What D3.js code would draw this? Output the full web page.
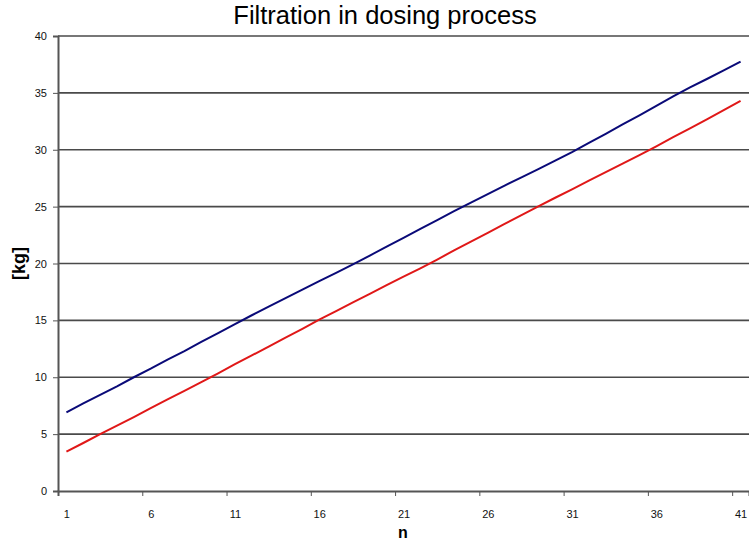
<!DOCTYPE html>
<html>
<head>
<meta charset="utf-8">
<script src="https://cdn.jsdelivr.net/npm/d3@7/dist/d3.min.js"></script>
<style>
  html, body { margin: 0; padding: 0; background: #fff; }
  svg { display: block; }
  text { font-family: Arial, "Liberation Sans", sans-serif; }
</style>
</head>
<body>
<script>
// Dosing cycle index n
const categories = d3.range(1, 42);

// Filtered mass per cycle [kg]
const seriesUpper = [
  6.92, 7.70, 8.45, 9.20, 10.00, 10.75, 11.55, 12.30, 13.10, 13.88,
  14.67, 15.45, 16.20, 16.95, 17.70, 18.45, 19.18, 19.93, 20.70, 21.48,
  22.25, 23.05, 23.82, 24.60, 25.35, 26.10, 26.85, 27.58, 28.30, 29.05,
  29.80, 30.60, 31.40, 32.22, 33.02, 33.85, 34.70, 35.48, 36.22, 36.98,
  37.74
];
const seriesLower = [
  3.46, 4.22, 5.00, 5.75, 6.50, 7.28, 8.05, 8.80, 9.58, 10.35,
  11.15, 11.92, 12.70, 13.48, 14.25, 15.06, 15.82, 16.58, 17.33, 18.10,
  18.85, 19.58, 20.35, 21.15, 21.93, 22.70, 23.48, 24.25, 25.02, 25.78,
  26.52, 27.28, 28.03, 28.78, 29.53, 30.30, 31.10, 31.88, 32.68, 33.48,
  34.29
];

const yTicks = [0, 5, 10, 15, 20, 25, 30, 35, 40];
const xTickLabels = [1, 6, 11, 16, 21, 26, 31, 36, 41];

const W = 749, H = 544;
const plot = { left: 58, right: 749, top: 36, bottom: 491 };

const svg = d3.select("body").append("svg")
  .attr("width", W).attr("height", H);

const x = d3.scaleLinear()
  .domain([0.5, categories.length + 0.5])
  .range([plot.left, plot.right]);
const y = d3.scaleLinear()
  .domain([0, 40])
  .range([plot.bottom, plot.top]);

// horizontal gridlines
svg.append("g")
  .selectAll("line")
  .data(yTicks.filter(d => d > 0))
  .join("line")
  .attr("x1", plot.left).attr("x2", plot.right)
  .attr("y1", d => y(d)).attr("y2", d => y(d))
  .attr("stroke", "#4a4a4a")
  .attr("stroke-width", 1.6);

// y axis
const yAxis = svg.append("g")
  .attr("transform", `translate(${plot.left},0)`)
  .call(d3.axisLeft(y).tickValues(yTicks).tickSize(5).tickPadding(6));
yAxis.select(".domain").attr("stroke", "#555").attr("stroke-width", 2);
yAxis.selectAll(".tick line").attr("stroke", "#555");
yAxis.selectAll(".tick text")
  .attr("font-size", "11px").attr("fill", "#111")
  .style("font-family", "Arial, 'Liberation Sans', sans-serif");

// x axis: tick marks between category groups
const boundaries = d3.range(0, categories.length, 5).map(i => i + 0.5);
const xAxisMarks = svg.append("g")
  .attr("transform", `translate(0,${plot.bottom})`)
  .call(d3.axisBottom(x).tickValues(boundaries).tickSize(5).tickFormat(""));
xAxisMarks.select(".domain").attr("stroke", "#555").attr("stroke-width", 2);
xAxisMarks.selectAll(".tick line").attr("stroke", "#555");

// x axis: category labels
const xAxisLabels = svg.append("g")
  .attr("transform", `translate(0,${plot.bottom})`)
  .call(d3.axisBottom(x).tickValues(xTickLabels).tickSize(0).tickPadding(19));
xAxisLabels.select(".domain").remove();
xAxisLabels.selectAll(".tick text")
  .attr("font-size", "11px").attr("fill", "#111")
  .style("font-family", "Arial, 'Liberation Sans', sans-serif");

// series lines
const line = d3.line()
  .x((d, i) => x(categories[i]))
  .y(d => y(d));

svg.append("path")
  .datum(seriesUpper)
  .attr("d", line)
  .attr("fill", "none")
  .attr("stroke", "#0a0a78")
  .attr("stroke-width", 2);

svg.append("path")
  .datum(seriesLower)
  .attr("d", line)
  .attr("fill", "none")
  .attr("stroke", "#e01818")
  .attr("stroke-width", 2);

// titles
svg.append("text")
  .attr("x", 385).attr("y", 24)
  .attr("text-anchor", "middle")
  .attr("font-size", "25.5px")
  .attr("fill", "#000")
  .text("Filtration in dosing process");

svg.append("text")
  .attr("transform", `translate(25,${(plot.top + plot.bottom) / 2}) rotate(-90)`)
  .attr("text-anchor", "middle")
  .attr("font-size", "18px")
  .attr("font-weight", "bold")
  .attr("fill", "#000")
  .text("[kg]");

svg.append("text")
  .attr("x", 403).attr("y", 538)
  .attr("text-anchor", "middle")
  .attr("font-size", "16px")
  .attr("font-weight", "bold")
  .attr("fill", "#000")
  .text("n");
</script>
</body>
</html>
